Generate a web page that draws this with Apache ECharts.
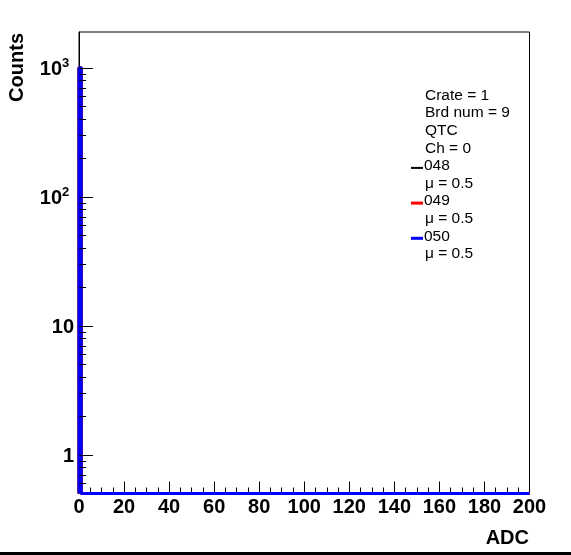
<!DOCTYPE html>
<html>
<head>
<meta charset="utf-8">
<script src="https://cdn.jsdelivr.net/npm/echarts@6/dist/echarts.min.js"></script>
<style>
html,body{margin:0;padding:0;background:#fff;}
#chart{width:571px;height:555px;}
</style>
</head>
<body>
<div id="chart"></div>
<script>
// ---- data ----
const xRange = [0, 200];          // ADC
const binWidth = 1;
// non-empty bins: [binIndex, count]; all other bins are empty
const hist048 = [[0, 1000]];
const hist049 = [[0, 1000]];
const hist050 = [[0, 1000]];
const yRange = [0.5, 1890];
const majorYTicks = [1, 10, 100, 1000];
const yTickLabels = ['1', '10', '10^2', '10^3'];
const minorYTicks = [0.6, 0.7, 0.8, 0.9, 2, 3, 4, 5, 6, 7, 8, 9,
  20, 30, 40, 50, 60, 70, 80, 90, 200, 300, 400, 500, 600, 700, 800, 900];
const legendHeader = ['Crate = 1', 'Brd num = 9', 'QTC', 'Ch = 0'];
const legendEntries = [
  {name: '048', mean: 'μ = 0.5', color: '#000000', width: 2},
  {name: '049', mean: 'μ = 0.5', color: '#ff0000', width: 3},
  {name: '050', mean: 'μ = 0.5', color: '#0000ff', width: 3}
];

const FONT = '"Liberation Sans", Arial, Helvetica, sans-serif';

// ROOT-style outline: empty bins drawn at the frame floor
function outline(hist) {
  const floor = yRange[0];
  const pts = [[xRange[0], floor]];
  hist.forEach(([b, c]) => {
    const x0 = xRange[0] + b * binWidth, x1 = x0 + binWidth;
    pts.push([x0, floor], [x0, c], [x1, c], [x1, floor]);
  });
  pts.push([xRange[1], floor]);
  return pts;
}

const chart = echarts.init(document.getElementById('chart'), null, {renderer: 'canvas'});

const histSeries = [hist048, hist049, hist050].map((h, i) => ({
  type: 'line',
  name: legendEntries[i].name,
  data: outline(h),
  showSymbol: false,
  symbol: 'none',
  clip: false,
  z: 3 + i,
  lineStyle: {color: legendEntries[i].color, width: 3},
  animation: false
}));

function majorRender(params, api) {
  const v = api.value(1);
  const p = api.coord([xRange[0], v]);
  const y = Math.round(p[1]) + 0.5;
  const x = Math.round(p[0]);
  const lbl = yTickLabels[params.dataIndex];
  const children = [{
    type: 'line',
    shape: {x1: x, y1: y, x2: x + 14, y2: y},
    style: {stroke: '#000', lineWidth: 1}
  }];
  if (lbl.indexOf('^') >= 0) {
    const [base, exp] = lbl.split('^');
    children.push({
      type: 'text', x: x - 17, y: p[1] + 2,
      style: {text: base, font: 'bold 20px ' + FONT, fill: '#000', align: 'right', verticalAlign: 'middle'}
    });
    children.push({
      type: 'text', x: x - 17, y: p[1] - 4,
      style: {text: exp, font: 'bold 13px ' + FONT, fill: '#000', align: 'left', verticalAlign: 'middle'}
    });
  } else {
    children.push({
      type: 'text', x: x - 5, y: p[1] + 2,
      style: {text: lbl, font: 'bold 20px ' + FONT, fill: '#000', align: 'right', verticalAlign: 'middle'}
    });
  }
  return {type: 'group', children};
}

function minorRender(params, api) {
  const v = api.value(1);
  const p = api.coord([xRange[0], v]);
  const y = Math.round(p[1]) + 0.5;
  const x = Math.round(p[0]);
  return {type: 'line', shape: {x1: x, y1: y, x2: x + 7, y2: y}, style: {stroke: '#000', lineWidth: 1}};
}

const graphics = [
  {type: 'rect', left: 0, top: 552, shape: {width: 571, height: 3}, style: {fill: '#000'}},
  {type: 'text', x: 529, y: 538, style: {text: 'ADC', font: 'bold 20px ' + FONT, fill: '#000', align: 'right', verticalAlign: 'middle'}},
  {type: 'text', x: 17, y: 33, rotation: Math.PI / 2, style: {text: 'Counts', font: 'bold 20px ' + FONT, fill: '#000', align: 'right', verticalAlign: 'middle'}}
];
const rowY = (i) => 95.5 + i * 17.6;
legendHeader.forEach((t, i) => {
  graphics.push({type: 'text', x: 425, y: rowY(i), style: {text: t, font: '15.5px ' + FONT, fill: '#000', align: 'left', verticalAlign: 'middle'}});
});
legendEntries.forEach((e, k) => {
  const r1 = legendHeader.length + 2 * k;
  graphics.push({type: 'line', shape: {x1: 411, y1: rowY(r1) + 2, x2: 423, y2: rowY(r1) + 2}, style: {stroke: e.color, lineWidth: e.width}});
  graphics.push({type: 'text', x: 424, y: rowY(r1), style: {text: e.name, font: '15.5px ' + FONT, fill: '#000', align: 'left', verticalAlign: 'middle'}});
  graphics.push({type: 'text', x: 425, y: rowY(r1 + 1), style: {text: e.mean, font: '15.5px ' + FONT, fill: '#000', align: 'left', verticalAlign: 'middle'}});
});

chart.setOption({
  animation: false,
  backgroundColor: '#fff',
  grid: {left: 79, right: 41.5, top: 32, bottom: 61.5, show: true, borderColor: '#000', borderWidth: 1, backgroundColor: '#fff', containLabel: false},
  xAxis: {
    type: 'value', min: xRange[0], max: xRange[1], interval: 20,
    axisLine: {show: true, onZero: false, lineStyle: {color: '#000', width: 1}},
    axisTick: {show: true, inside: true, length: 12, lineStyle: {color: '#000', width: 1}},
    minorTick: {show: true, splitNumber: 4, length: 6, lineStyle: {color: '#000', width: 1}},
    splitLine: {show: false},
    minorSplitLine: {show: false},
    axisLabel: {show: true, margin: 4, color: '#000', fontFamily: FONT, fontWeight: 'bold', fontSize: 20}
  },
  yAxis: {
    type: 'log', logBase: 10, min: yRange[0], max: yRange[1],
    axisLine: {show: true, lineStyle: {color: '#000', width: 1}},
    axisTick: {show: false},
    axisLabel: {show: false},
    splitLine: {show: false},
    minorTick: {show: false},
    minorSplitLine: {show: false}
  },
  graphic: graphics,
  series: [
    {type: 'custom', renderItem: minorRender, data: minorYTicks.map(v => [xRange[0], v]), z: 10, silent: true},
    {type: 'custom', renderItem: majorRender, data: majorYTicks.map(v => [xRange[0], v]), z: 10, silent: true}
  ].concat(histSeries)
});
</script>
</body>
</html>
